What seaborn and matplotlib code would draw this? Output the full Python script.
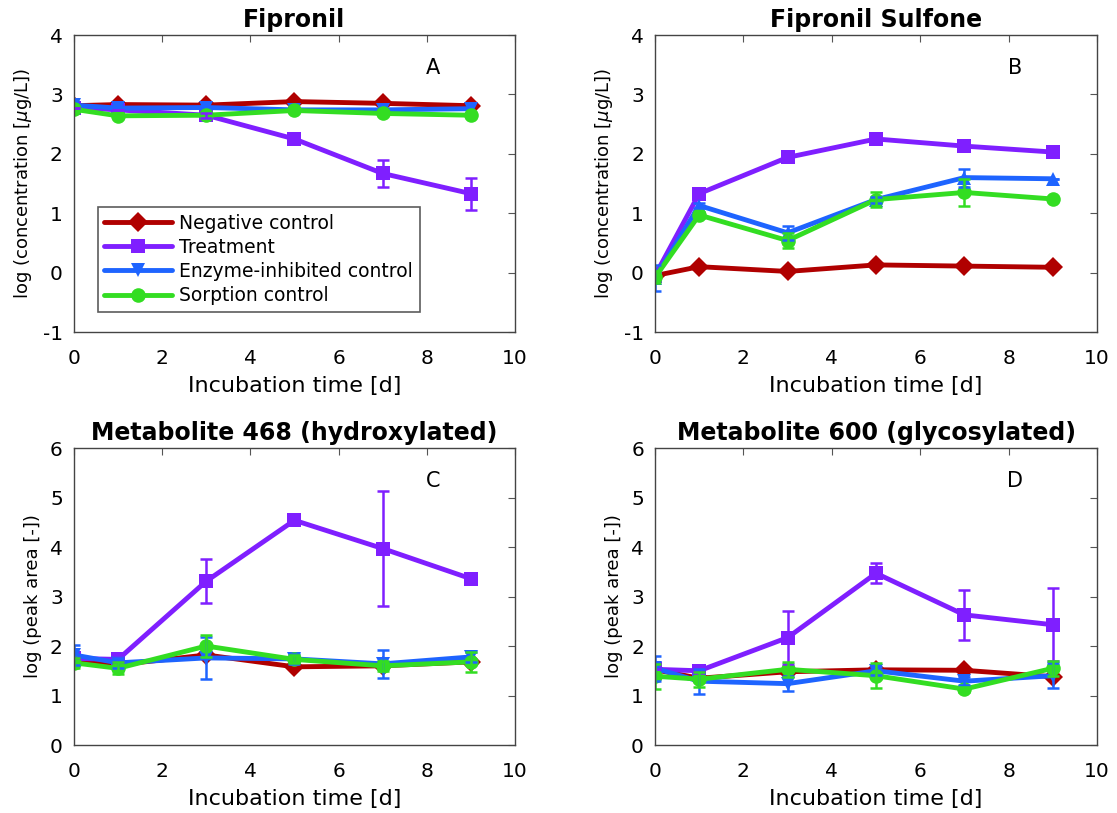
import numpy as np
import pandas as pd
import seaborn as sns
import matplotlib.pyplot as plt

days = [0, 1, 3, 5, 7, 9]
groups = ["Negative control", "Treatment", "Enzyme-inhibited control", "Sorption control"]

# panel A - Fipronil
a_neg = [2.81, 2.83, 2.82, 2.88, 2.85, 2.81]
a_trt = [2.78, 2.74, 2.65, 2.25, 1.67, 1.33]
a_enz = [2.82, 2.77, 2.78, 2.74, 2.74, 2.76]
a_sor = [2.75, 2.64, 2.65, 2.73, 2.68, 2.65]
a_trt_err = [0, 0, 0.04, 0.04, 0.23, 0.27]

# panel B - Fipronil Sulfone
b_neg = [-0.05, 0.10, 0.02, 0.13, 0.11, 0.09]
b_trt = [-0.05, 1.33, 1.94, 2.25, 2.13, 2.03]
b_enz = [-0.09, 1.13, 0.67, 1.23, 1.60, 1.58]
b_sor = [-0.08, 0.97, 0.54, 1.23, 1.35, 1.24]
b_enz_err = [0.22, 0.05, 0.12, 0.05, 0.15, 0]
b_sor_err = [0.1, 0.05, 0.12, 0.12, 0.22, 0]

# panel C - Metabolite 468
c_neg = [1.72, 1.62, 1.82, 1.58, 1.60, 1.68]
c_trt = [1.75, 1.73, 3.31, 4.54, 3.97, 3.36]
c_enz = [1.82, 1.66, 1.76, 1.74, 1.64, 1.78]
c_sor = [1.66, 1.55, 2.00, 1.73, 1.60, 1.68]
c_trt_err = [0, 0.05, 0.45, 0.05, 1.17, 0.05]
c_enz_err = [0.2, 0.1, 0.42, 0.1, 0.28, 0.1]
c_sor_err = [0.1, 0.12, 0.22, 0.08, 0.1, 0.2]

# panel D - Metabolite 600
d_neg = [1.52, 1.35, 1.48, 1.52, 1.51, 1.38]
d_trt = [1.53, 1.50, 2.17, 3.47, 2.63, 2.43]
d_enz = [1.55, 1.29, 1.24, 1.50, 1.29, 1.40]
d_sor = [1.39, 1.33, 1.53, 1.40, 1.13, 1.55]
d_trt_err = [0, 0.05, 0.53, 0.2, 0.5, 0.74]
d_enz_err = [0.25, 0.25, 0.15, 0.08, 0.08, 0.25]
d_sor_err = [0.25, 0.15, 0.15, 0.25, 0.05, 0.15]

palette = {"Negative control": "#B00000", "Treatment": "#7F1FFF",
           "Enzyme-inhibited control": "#1E64FF", "Sorption control": "#33DD22"}

sns.set_style("white")
plt.rcParams["font.family"] = ["DejaVu Sans"]
plt.rcParams["axes.unicode_minus"] = False
plt.rcParams["text.color"] = "black"
plt.rcParams["axes.labelcolor"] = "black"
plt.rcParams["xtick.direction"] = "in"
plt.rcParams["ytick.direction"] = "in"
plt.rcParams["xtick.top"] = True
plt.rcParams["ytick.right"] = True

fig = plt.figure(figsize=(11.17, 8.13), dpi=100)
axA = fig.add_axes([0.0662, 0.5916, 0.3948, 0.3653])
axB = fig.add_axes([0.5864, 0.5916, 0.3957, 0.3653])
axC = fig.add_axes([0.0662, 0.0836, 0.3948, 0.3653])
axD = fig.add_axes([0.5864, 0.0836, 0.3957, 0.3653])

panels = [
    (axA, [a_neg, a_trt, a_enz, a_sor], [None, a_trt_err, None, None], "Fipronil", "A",
     (-1, 4), r"log (concentration [$\mu$g/L])", "v"),
    (axB, [b_neg, b_trt, b_enz, b_sor], [None, None, b_enz_err, b_sor_err], "Fipronil Sulfone", "B",
     (-1, 4), r"log (concentration [$\mu$g/L])", "^"),
    (axC, [c_neg, c_trt, c_enz, c_sor], [None, c_trt_err, c_enz_err, c_sor_err], "Metabolite 468 (hydroxylated)", "C",
     (0, 6), "log (peak area [-])", "v"),
    (axD, [d_neg, d_trt, d_enz, d_sor], [None, d_trt_err, d_enz_err, d_sor_err], "Metabolite 600 (glycosylated)", "D",
     (0, 6), "log (peak area [-])", "v"),
]

for ax, series, errs, title, letter, ylim, ylabel, tri in panels:
    rows = []
    for g, vals in zip(groups, series):
        for d, v in zip(days, vals):
            rows.append({"day": d, "value": v, "group": g})
    df = pd.DataFrame(rows)
    markers = {"Negative control": "D", "Treatment": "s",
               "Enzyme-inhibited control": tri, "Sorption control": "o"}
    sns.lineplot(data=df, x="day", y="value", hue="group", style="group",
                 hue_order=groups, style_order=groups, palette=palette,
                 markers=markers, dashes=False, linewidth=3.5, markersize=10.5,
                 markeredgewidth=0, ax=ax, legend=(ax is axA))
    for g, vals, e in zip(groups, series, errs):
        if e is not None:
            ax.errorbar(days, vals, yerr=e, fmt="none", ecolor=palette[g],
                        elinewidth=1.8, capsize=4, capthick=1.8)
    ax.set_xlim(0, 10)
    ax.set_ylim(*ylim)
    ax.set_xticks([0, 2, 4, 6, 8, 10])
    ax.set_yticks(np.arange(ylim[0], ylim[1] + 1))
    ax.set_title(title, fontsize=17, fontweight="bold", pad=6, color="black")
    ax.set_xlabel("Incubation time [d]", fontsize=16, labelpad=6)
    ax.set_ylabel(ylabel, fontsize=13, labelpad=6)
    ax.tick_params(labelsize=14.5, length=5, width=0.8, color="#555555",
                   labelcolor="black")
    ax.tick_params(axis="x", pad=12)
    ax.tick_params(axis="y", pad=8)
    for s in ax.spines.values():
        s.set_color("#444444")
        s.set_linewidth(1)
    ax.text(8.15, ylim[1] - 0.11 * (ylim[1] - ylim[0]), letter, fontsize=15,
            ha="center", va="center")

leg = axA.get_legend()
leg.set_title(None)
sns.move_legend(axA, "upper left", bbox_to_anchor=(0.054, 0.421), frameon=True,
                fontsize=13.5, handlelength=3.6, handletextpad=0.4, borderpad=0.35,
                labelspacing=0.28, fancybox=False, edgecolor="#333333",
                borderaxespad=0)
axA.get_legend().get_frame().set_linewidth(1.2)

fig.savefig("out.png", dpi=100)
